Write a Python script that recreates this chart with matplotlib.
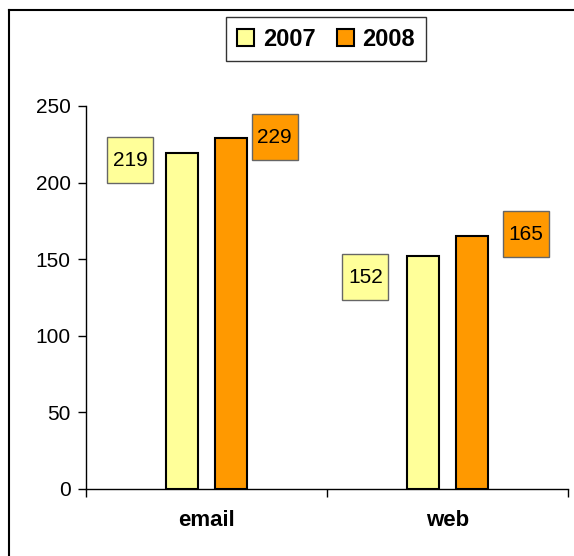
import matplotlib.pyplot as plt
from matplotlib.lines import Line2D
from matplotlib.patches import Patch
from matplotlib.transforms import offset_copy

categories = ['email', 'web']
years = ['2007', '2008']
values_2007 = [219, 152]
values_2008 = [229, 165]
colors = ['#FFFF99', '#FF9900']

plt.rcParams['font.family'] = ['Liberation Sans', 'DejaVu Sans']

fig = plt.figure(figsize=(5.74, 5.56), dpi=100)
ax = fig.add_axes([86 / 574, 67 / 556, 482 / 574, 383 / 556])

x = list(range(len(categories)))
width = 0.133
offset = 0.1
series = [values_2007, values_2008]
# label box offsets (pixels) from the bar top, like the excel chart
label_offsets = [[(-52, -7), (-58, -21)], [(44, 1), (54, 2)]]
for i, vals in enumerate(series):
    pos = [p + (i * 2 - 1) * offset for p in x]
    ax.bar(pos, vals, width, color=colors[i], edgecolor='black', linewidth=1.5, zorder=3)
    for j, v in enumerate(vals):
        dx, dy = label_offsets[i][j]
        tr = offset_copy(ax.transData, fig=fig, x=dx, y=dy, units='dots')
        ax.plot([pos[j]], [v], marker='s', markersize=46 * 0.72, mfc=colors[i],
                mec='#666666', mew=1, transform=tr, clip_on=False, zorder=4)
        ax.text(pos[j], v, str(v), transform=tr, ha='center', va='center',
                fontsize=15, zorder=5)

ax.set_xlim(-0.5, 1.5)
ax.set_ylim(0, 250)
ax.set_yticks(range(0, 251, 50))
ax.set_xticks([-0.5, 0.5, 1.5])
ax.set_xticklabels([])
ax.set_xticks(x, minor=True)
ax.set_xticklabels(categories, minor=True, fontsize=16, fontweight='bold')
ax.tick_params(axis='x', which='minor', length=0, pad=15)
ax.tick_params(axis='x', which='major', direction='out', length=6, width=1)
ax.tick_params(axis='y', direction='out', length=6, width=1, labelsize=15, pad=5)
for s in ['top', 'right']:
    ax.spines[s].set_visible(False)
for s in ['left', 'bottom']:
    ax.spines[s].set_linewidth(1)

handles = [Patch(facecolor=colors[i], edgecolor='black', lw=1.5) for i in range(2)]
leg = fig.legend(handles, years, loc='center', bbox_to_anchor=(326 / 574, 1 - 39 / 556),
                 ncol=2, fancybox=False, shadow=False, frameon=True, handlelength=0.75,
                 handleheight=0.75, handletextpad=0.35, columnspacing=0.9,
                 prop={'weight': 'bold', 'size': 17}, borderpad=0.45)
leg.get_frame().set_edgecolor('black')
leg.get_frame().set_linewidth(1)

# outer chart border (cropped)
fig.add_artist(Line2D([9 / 574, 1], [1 - 10 / 556, 1 - 10 / 556], color='black', lw=1.5))
fig.add_artist(Line2D([9 / 574, 9 / 574], [0, 1 - 10 / 556], color='black', lw=1.5))

fig.savefig('out.png', dpi=100)
